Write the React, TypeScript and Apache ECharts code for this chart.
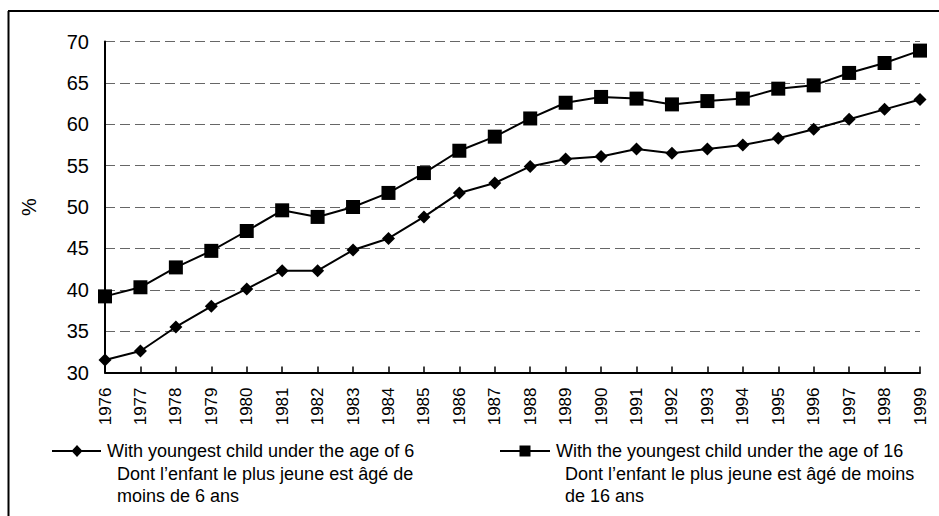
import React, { useEffect, useRef } from "react";
import * as echarts from "echarts";

const years = [
  "1976", "1977", "1978", "1979", "1980", "1981", "1982", "1983", "1984", "1985", "1986", "1987",
  "1988", "1989", "1990", "1991", "1992", "1993", "1994", "1995", "1996", "1997", "1998", "1999",
];

const under6 = [
  31.5, 32.6, 35.5, 38.0, 40.1, 42.3, 42.3, 44.8, 46.2, 48.8, 51.7, 52.9,
  54.9, 55.8, 56.1, 57.0, 56.5, 57.0, 57.5, 58.3, 59.4, 60.6, 61.8, 63.0,
];

const under16 = [
  39.2, 40.3, 42.7, 44.7, 47.1, 49.6, 48.8, 50.0, 51.7, 54.1, 56.8, 58.5,
  60.7, 62.6, 63.3, 63.1, 62.4, 62.8, 63.1, 64.3, 64.7, 66.2, 67.4, 68.9,
];

const legend1 = [
  "With youngest child under the age of 6",
  "Dont l\u2019enfant le plus jeune est âgé de",
  "moins de 6 ans",
];
const legend2 = [
  "With the youngest child under the age of 16",
  "Dont l\u2019enfant le plus jeune est âgé de moins",
  "de 16 ans",
];

const FONT = "'Liberation Sans', Arial, sans-serif";

export default function App() {
  const ref = useRef<HTMLDivElement>(null);
  useEffect(() => {
    if (!ref.current) return;
    const chart = echarts.init(ref.current, null, { renderer: "svg" });
    const txt = (x: number, y: number, s: string, size = 18) => ({
      type: "text",
      x,
      y,
      style: { text: s, fill: "#000", font: `${size}px ${FONT}`, textVerticalAlign: "middle" },
    });
    chart.setOption({
      animation: false,
      backgroundColor: "#fff",
      textStyle: { fontFamily: FONT },
      grid: { left: 105, right: 19, top: 41.5, bottom: 143.5 },
      xAxis: {
        type: "category",
        data: years,
        boundaryGap: false,
        axisLine: { lineStyle: { color: "#000", width: 2 } },
        axisTick: { inside: true, length: 6, lineStyle: { color: "#000", width: 1.5 }, alignWithLabel: true },
        axisLabel: {
          rotate: 90,
          color: "#000",
          fontSize: 17,
          fontFamily: FONT,
          margin: 15,
          interval: 0,
        },
      },
      yAxis: {
        type: "value",
        min: 30,
        max: 70,
        interval: 5,
        name: "%",
        nameLocation: "middle",
        nameGap: 66,
        nameRotate: 90,
        nameTextStyle: { color: "#000", fontSize: 20, fontFamily: FONT },
        axisLine: { show: true, lineStyle: { color: "#000", width: 2 } },
        axisTick: { show: false },
        axisLabel: { color: "#000", fontSize: 20, fontFamily: FONT, margin: 16 },
        splitLine: { lineStyle: { color: "#666", width: 1, type: [10, 5] } },
      },
      series: [
        {
          name: legend1[0],
          type: "line",
          data: under6,
          symbol: "diamond",
          symbolSize: 13,
          lineStyle: { color: "#000", width: 2 },
          itemStyle: { color: "#000" },
          z: 3,
        },
        {
          name: legend2[0],
          type: "line",
          data: under16,
          symbol: "rect",
          symbolSize: 14,
          lineStyle: { color: "#000", width: 2 },
          itemStyle: { color: "#000" },
          z: 3,
        },
      ],
      graphic: [
        { type: "line", shape: { x1: 8.5, y1: 11, x2: 8.5, y2: 516 }, style: { stroke: "#000", lineWidth: 2 } },
        { type: "line", shape: { x1: 8, y1: 11, x2: 939, y2: 11 }, style: { stroke: "#000", lineWidth: 2 } },
        { type: "line", shape: { x1: 52, y1: 451, x2: 101, y2: 451 }, style: { stroke: "#000", lineWidth: 2 } },
        { type: "polygon", shape: { points: [[77, 445], [82.5, 451], [77, 457], [71.5, 451]] }, style: { fill: "#000" } },
        txt(107, 451, legend1[0]),
        txt(117, 474, legend1[1]),
        txt(117, 496, legend1[2]),
        { type: "line", shape: { x1: 500, y1: 451, x2: 550, y2: 451 }, style: { stroke: "#000", lineWidth: 2 } },
        { type: "rect", shape: { x: 519.5, y: 445.5, width: 11, height: 11 }, style: { fill: "#000" } },
        txt(556, 451, legend2[0]),
        txt(565, 474, legend2[1]),
        txt(565, 496, legend2[2]),
      ],
    });
    return () => chart.dispose();
  }, []);
  return (
    <div
      ref={ref}
      style={{ position: "fixed", left: 0, top: 0, width: 939, height: 516 }}
    />
  );
}
